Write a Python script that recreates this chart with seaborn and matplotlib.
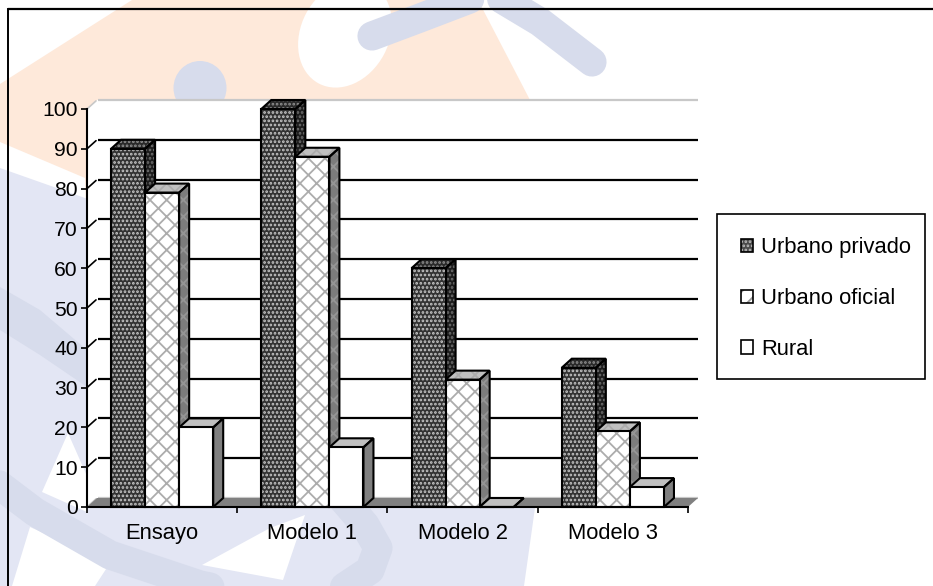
import matplotlib
matplotlib.use("Agg")
import matplotlib.pyplot as plt
from matplotlib.legend_handler import HandlerTuple
from matplotlib.patches import Ellipse, Patch, Polygon, Rectangle
import pandas as pd
import seaborn as sns

categories = ["Ensayo", "Modelo 1", "Modelo 2", "Modelo 3"]
series_names = ["Urbano privado", "Urbano oficial", "Rural"]
urbano_privado = [90, 100, 60, 35]
urbano_oficial = [79, 88, 32, 19]
rural = [20, 15, 0, 5]
y_ticks = list(range(0, 101, 10))

W, H = 933, 586
sns.set_style("white")
plt.rcParams["font.family"] = ["Liberation Sans", "DejaVu Sans"]
plt.rcParams["hatch.linewidth"] = 1.3

fig = plt.figure(figsize=(W / 100, H / 100), dpi=100, facecolor="white")

# Faint logo shapes behind the chart, laid out in pixel coordinates
bg = fig.add_axes([0, 0, 1, 1], zorder=-1)
bg.set_xlim(0, W)
bg.set_ylim(H, 0)
bg.axis("off")
PEACH, LIGHT, DARK = "#FEE9DA", "#E3E6F4", "#D7DCEC"


def shape(points, color):
    bg.add_patch(Polygon(points, closed=True, fc=color, ec="none"))


shape([(0, 84), (132, 0), (478, 0), (530, 100), (560, 300), (90, 300), (85, 178), (0, 142)], PEACH)
bg.add_patch(Ellipse((345, 34), 88, 112, angle=28, fc="white", ec="none"))
bg.add_patch(Ellipse((200, 88), 53, 54, fc=DARK, ec="none"))
bg.plot([372, 420, 488], [36, 18, -8], color=DARK, lw=21, solid_capstyle="round")
bg.plot([490, 540, 592], [-8, 22, 62], color=DARK, lw=21, solid_capstyle="round")
shape([(0, 168), (85, 198), (560, 330), (524, 586), (0, 586)], LIGHT)
shape([(0, 287), (40, 310), (87, 350), (87, 387), (40, 355), (0, 330)], DARK)
shape([(68, 433), (42, 492), (87, 512), (87, 476)], "white")
shape([(30, 527), (12, 586), (95, 586), (110, 563)], "white")
shape([(202, 565), (270, 528), (305, 515), (283, 580)], "white")
bg.plot([-10, 35, 110, 200, 274, 340, 370, 378, 365, 335],
        [478, 512, 555, 585, 600, 590, 570, 548, 525, 490],
        color=DARK, lw=21, solid_joinstyle="round")

# Plot area: spans the front edge of the pseudo-3D box
ax = fig.add_axes([87 / W, 1 - 507 / H, 601 / W, 398 / H], facecolor="none")

df = pd.DataFrame({
    "categoria": categories * 3,
    "serie": [s for s in series_names for _ in categories],
    "valor": urbano_privado + urbano_oficial + rural,
})
sns.barplot(data=df, x="categoria", y="valor", hue="serie", hue_order=series_names,
            palette=["#3a3a3a", "white", "white"], saturation=1, width=0.68, gap=0,
            legend=False, ax=ax)
ax.set_xlim(-0.5, 3.5)
ax.set_ylim(0, 100)
ax.set_xlabel("")
ax.set_ylabel("")

# Box depth converted to data units
dx = 10 / (601 / 4)
dy = 9 / (398 / 100)
x0, x1 = -0.5, 3.5

# Back wall, left wall, floor and gridlines
ax.add_patch(Polygon([(x0, 0), (x0 + dx, dy), (x1 + dx, dy), (x1 + dx, 100 + dy), (x0 + dx, 100 + dy), (x0, 100)],
                     fc="white", ec="none", zorder=0, clip_on=False))
ax.add_patch(Polygon([(x0, 0), (x0 + dx, dy), (x1 + dx, dy), (x1, 0)],
                     fc="#808080", ec="none", zorder=1.5, clip_on=False))
for t in y_ticks:
    wall_color = "#c8c8c8" if t in (0, 100) else "black"
    ax.plot([x0, x0 + dx * 0.9], [t, t + dy * 0.9], color=wall_color, lw=1.2, zorder=1, clip_on=False)
    ax.plot([x0 + dx * 1.1, x1 + dx], [t + dy, t + dy], color=wall_color, lw=1.6, zorder=1,
            clip_on=False, solid_capstyle="butt")

# Front, side and top fills with their hatches: (fill, hatch colour, hatch)
styles = [
    {"front": ("#333333", "#c8c8c8", "...."), "side": ("#1c1c1c", "#707070", "...."), "top": ("#2a2a2a", "#909090", "....")},
    {"front": ("white", "#acacac", "xx"), "side": ("#7c7c7c", "#959595", "xx"), "top": ("#c0c0c0", "#acacac", "xx")},
    {"front": ("white", "white", ""), "side": ("#808080", "#808080", ""), "top": ("#c0c0c0", "#c0c0c0", "")},
]
EDGE = {"ec": "black", "fill": False, "lw": 1.5, "joinstyle": "miter", "clip_on": False}

for k, (container, style) in enumerate(zip(ax.containers, styles)):
    z = 3 + k
    for bar in container:
        left, w, h = bar.get_x(), bar.get_width(), bar.get_height()
        right = left + w
        fill, hatch_color, hatch = style["front"]
        bar.set(facecolor=fill, edgecolor=hatch_color, hatch=hatch, linewidth=0, zorder=z + 0.2)
        ax.add_patch(Rectangle((left, 0), w, h, zorder=z + 0.3, **EDGE))
        faces = {
            "side": [(right, 0), (right + dx, dy), (right + dx, h + dy), (right, h)],
            "top": [(left, h), (left + dx, h + dy), (right + dx, h + dy), (right, h)],
        }
        for name, pts in faces.items():
            fill, hatch_color, hatch = style[name]
            ax.add_patch(Polygon(pts, fc=fill, ec=hatch_color, hatch=hatch, lw=0, zorder=z, clip_on=False))
            ax.add_patch(Polygon(pts, zorder=z + 0.1, **EDGE))

# Axes, ticks and tick labels
for side in ("top", "right"):
    ax.spines[side].set_visible(False)
for side in ("left", "bottom"):
    ax.spines[side].set(color="black", linewidth=1.5, zorder=8)
ax.set_yticks(y_ticks)
ax.set_xticks(range(len(categories)))
ax.set_xticklabels(categories)
ax.set_xticks([x0 + i for i in range(5)], minor=True)
ax.tick_params(axis="y", which="major", left=True, length=4.5, width=1.2, color="black",
               labelsize=15.2, pad=2, labelcolor="black")
ax.tick_params(axis="x", which="major", bottom=False, labelsize=15.8, pad=8, labelcolor="black")
ax.tick_params(axis="x", which="minor", bottom=True, length=4.5, width=1.2, color="black")

# Outer chart frame: only the top and left edges show
fig.add_artist(plt.Line2D([8 / W, 8 / W], [0, 1 - 9 / H], color="black", lw=1.4))
fig.add_artist(plt.Line2D([8 / W, 1], [1 - 9 / H, 1 - 9 / H], color="black", lw=1.6))

# Legend box and entries
fig.add_artist(Rectangle((717 / W, 1 - 379 / H), 208 / W, 165 / H, transform=fig.transFigure,
                         fc="white", ec="black", lw=1.2, zorder=5))
outline = dict(fill=False, edgecolor="black", linewidth=1.2)
handles = [
    (Patch(facecolor="#4a4a4a", edgecolor="#bbbbbb", hatch="....", linewidth=0), Patch(**outline)),
    (Patch(facecolor="white", edgecolor="#999999", hatch="//", linewidth=0), Patch(**outline)),
    (Patch(facecolor="white", edgecolor="white", linewidth=0), Patch(**outline)),
]
leg = ax.legend(handles, series_names, loc="center left", bbox_to_anchor=(741 / W, 1 - 298.5 / H),
                bbox_transform=fig.transFigure, frameon=False, borderpad=0, borderaxespad=0,
                fontsize=15.8, labelspacing=1.36, labelcolor="black", handlelength=0.55, handleheight=0.55,
                handletextpad=0.38, handler_map={tuple: HandlerTuple(ndivide=1, pad=0)})
leg.set_zorder(9)
fig.canvas.draw()
leg.remove()
fig.add_artist(leg)

fig.savefig("out.png", dpi=100)
